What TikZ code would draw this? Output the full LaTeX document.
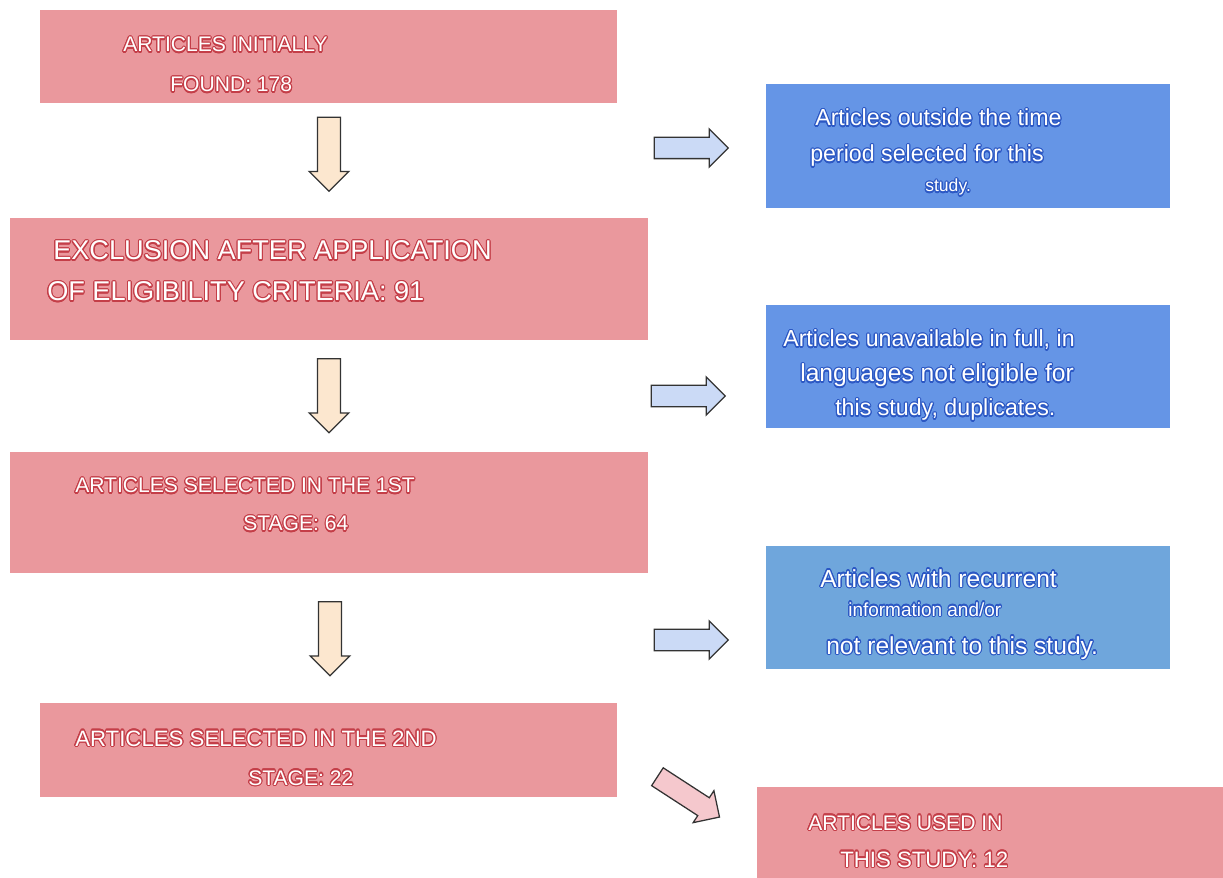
\documentclass[tikz,border=0pt]{standalone}
\usepackage{fontspec}
\setmainfont{Liberation Sans}
\usepackage[copies]{contour}
\contourlength{0.8pt}
\usetikzlibrary{shapes.arrows}

\definecolor{boxpink}{RGB}{234,152,157}
\definecolor{edgepink}{RGB}{196,62,72}
\definecolor{boxblue}{RGB}{101,149,230}
\definecolor{boxsky}{RGB}{111,166,220}
\definecolor{edgeblue}{RGB}{44,88,196}
\definecolor{arrowbeige}{RGB}{252,231,207}
\definecolor{arrowblue}{RGB}{203,218,246}
\definecolor{arrowpink}{RGB}{245,200,205}

\newcommand\pinkline[1]{\contour{edgepink}{#1}}
\newcommand\blueline[1]{\contour{edgeblue}{#1}}

\begin{document}
\begin{tikzpicture}[
    x=0.025cm, y=-0.025cm,
    every node/.style={inner sep=0pt},
    pinkbox/.style={fill=boxpink, minimum width=14.425cm, minimum height=2.325cm},
    widebox/.style={fill=boxpink, minimum width=15.95cm, minimum height=3.05cm},
    bluebox/.style={fill=boxblue, minimum width=10.1cm, minimum height=3.1cm},
    pinktext/.style={anchor=base west, text=white, font=\fontsize{15}{18}\selectfont},
    bigtext/.style={anchor=base west, text=white, font=\fontsize{19.3}{22}\selectfont},
    bluetext/.style={anchor=base west, text=white, font=\fontsize{16.5}{19}\selectfont},
    widetext/.style={bluetext, font=\fontsize{17.5}{20}\selectfont},
    smalltext/.style={anchor=base west, text=white, font=\fontsize{12.5}{15}\selectfont},
    blockarrow/.style={single arrow, draw=black!80, line width=0.9pt, inner xsep=0pt,
        inner ysep=0.25cm, single arrow head extend=0.21cm, minimum height=1.85cm},
    downarrow/.style={blockarrow, fill=arrowbeige, rotate=-90, inner ysep=0.27cm},
    sidearrow/.style={blockarrow, fill=arrowblue},
    slantarrow/.style={blockarrow, fill=arrowpink, rotate=-33}
    ]

    \useasboundingbox (0,0) rectangle (1223,878);
    \clip (0,0) rectangle (1223,878);

    % left column
    \node[pinkbox] (found) at (328.5,56.5) {};
    \node[widebox] (excl) at (329,279) {};
    \node[widebox, minimum height=3.025cm] (stage1) at (329,512.5) {};
    \node[pinkbox, minimum height=2.35cm] (stage2) at (328.5,750) {};

    \node[pinktext] (found-a) at (123,52) {\pinkline{ARTICLES INITIALLY}};
    \node[pinktext] (found-b) at (170,92) {\pinkline{FOUND: 178}};
    \node[bigtext] (excl-a) at (53,260) {\pinkline{EXCLUSION AFTER APPLICATION}};
    \node[bigtext] (excl-b) at (47,301) {\pinkline{OF ELIGIBILITY CRITERIA: 91}};
    \node[pinktext] (stage1-a) at (75,493) {\pinkline{ARTICLES SELECTED IN THE 1ST}};
    \node[pinktext] (stage1-b) at (243,531) {\pinkline{STAGE: 64}};
    \node[pinktext, font=\fontsize{15.8}{18}\selectfont] (stage2-a) at (75,746) {\pinkline{ARTICLES SELECTED IN THE 2ND}};
    \node[pinktext] (stage2-b) at (248,785) {\pinkline{STAGE: 22}};

    % down arrows
    \node[downarrow] (d1) at (329,148.5) {};
    \node[downarrow] (d2) at (329,390) {};
    \node[downarrow] (d3) at (330,633) {};

    % right column
    \node[bluebox] (time) at (968,146) {};
    \node[bluebox, minimum height=3.075cm] (unavail) at (968,366.5) {};
    \node[bluebox, fill=boxsky, minimum height=3.075cm] (recurr) at (968,607.5) {};
    \node[fill=boxpink, minimum width=11.65cm, minimum height=2.5cm] (used) at (990,837) {};

    \node[bluetext] (time-a) at (815,126) {\blueline{Articles outside the time}};
    \node[bluetext] (time-b) at (810,162) {\blueline{period selected for this}};
    \node[smalltext] (time-c) at (925,192) {\blueline{study.}};
    \node[bluetext] (unavail-a) at (783,347) {\blueline{Articles unavailable in full, in}};
    \node[widetext] (unavail-b) at (800,382) {\blueline{languages not eligible for}};
    \node[bluetext] (unavail-c) at (835,416) {\blueline{this study, duplicates.}};
    \node[widetext] (recurr-a) at (820,587) {\blueline{Articles with recurrent}};
    \node[smalltext, font=\fontsize{13.5}{16}\selectfont] (recurr-b) at (848,616) {\blueline{information and/or}};
    \node[widetext] (recurr-c) at (826,654) {\blueline{not relevant to this study.}};
    \node[pinktext] (used-a) at (808,830) {\pinkline{ARTICLES USED IN}};
    \node[pinktext, font=\fontsize{15.8}{18}\selectfont] (used-b) at (840,867) {\pinkline{THIS STUDY: 12}};

    % side arrows
    \node[sidearrow] (r1) at (686,148) {};
    \node[sidearrow] (r2) at (683,396) {};
    \node[sidearrow] (r3) at (686,640) {};
    \node[slantarrow] (r4) at (684,794) {};

\end{tikzpicture}
\end{document}
